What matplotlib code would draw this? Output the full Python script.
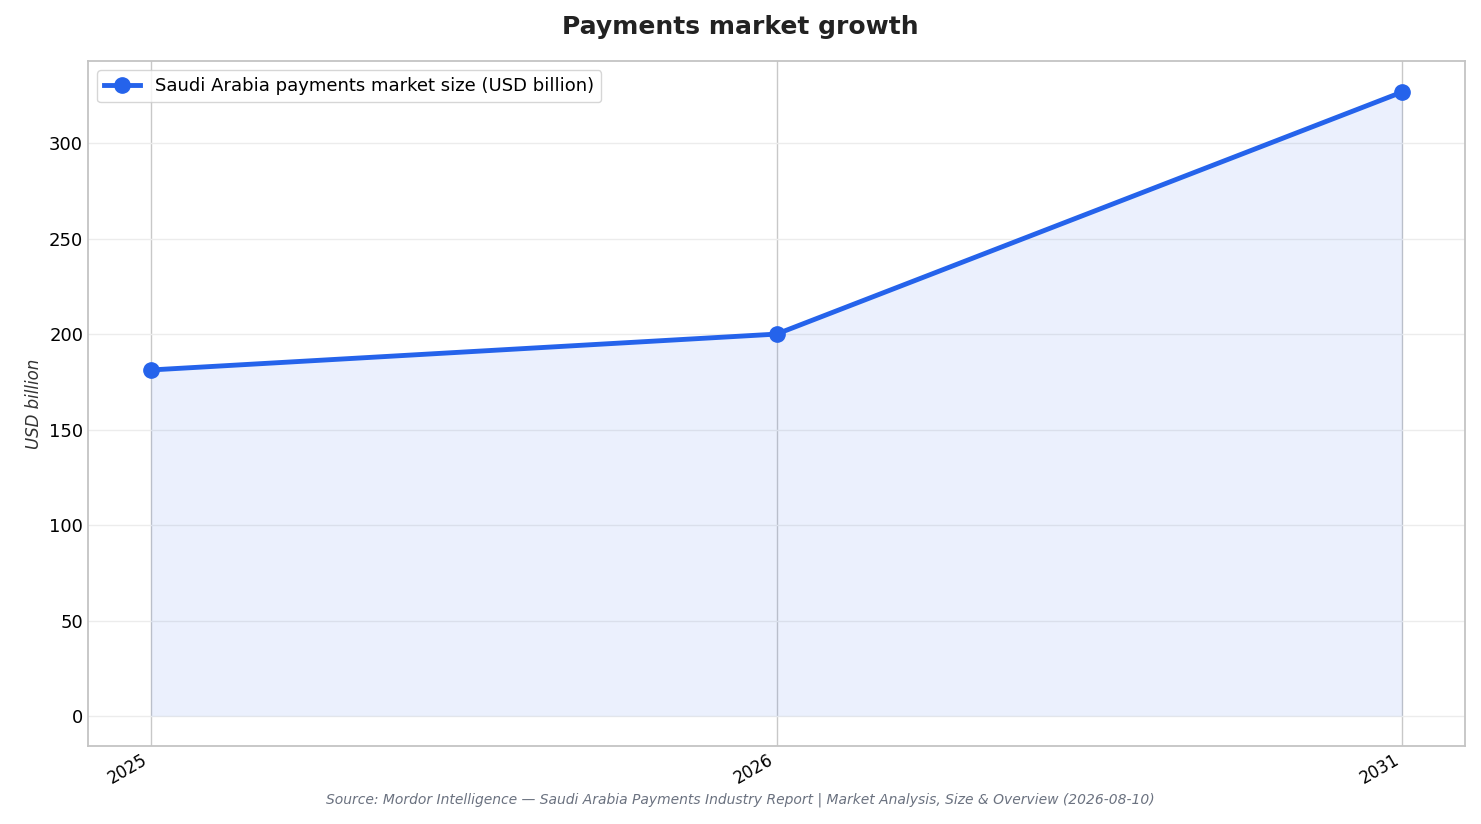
import matplotlib.pyplot as plt
import numpy as np

years = ["2025", "2026", "2031"]
market_size = [181.2, 200.0, 326.8]
series_label = "Saudi Arabia payments market size (USD billion)"

fig = plt.figure(figsize=(14.81, 8.24), dpi=100)
ax = fig.add_axes([88 / 1481, 1 - 746 / 824, (1465 - 88) / 1481, (746 - 61) / 824])

x = np.arange(len(years))
ax.fill_between(x, market_size, 0, color="#2563eb", alpha=0.09, linewidth=0)
ax.plot(x, market_size, color="#2563eb", linewidth=3.5, marker="o", markersize=11,
        label=series_label, zorder=3)

ax.set_xlim(-0.1, 2.1)
ax.set_ylim(-15.7, 343)
ax.set_xticks(x)
ax.set_xticklabels(years, rotation=30, ha="right", fontsize=12)
ax.set_yticks(range(0, 301, 50))
ax.tick_params(axis="y", labelsize=13, length=0)
ax.tick_params(axis="x", length=0)

ax.grid(axis="y", color="#ececec", linewidth=1)
ax.grid(axis="x", color="#c8c8c8", linewidth=1)
ax.set_axisbelow(True)
for s in ax.spines.values():
    s.set_color("#c4c4c4")
    s.set_linewidth(1.3)

ax.set_ylabel("USD billion", fontsize=12, style="italic", color="#333333")
ax.legend(loc="upper left", fontsize=13, frameon=True, edgecolor="#cccccc")

fig.text(0.5, 1 - 27 / 824, "Payments market growth", ha="center", va="center",
         fontsize=18, fontweight="bold", color="#222222")
fig.text(0.5, 1 - 800 / 824,
         "Source: Mordor Intelligence — Saudi Arabia Payments Industry Report | Market Analysis, Size & Overview (2026-08-10)",
         ha="center", va="center", fontsize=10, style="italic", color="#6b7280")

fig.savefig("out.png", dpi=100)
